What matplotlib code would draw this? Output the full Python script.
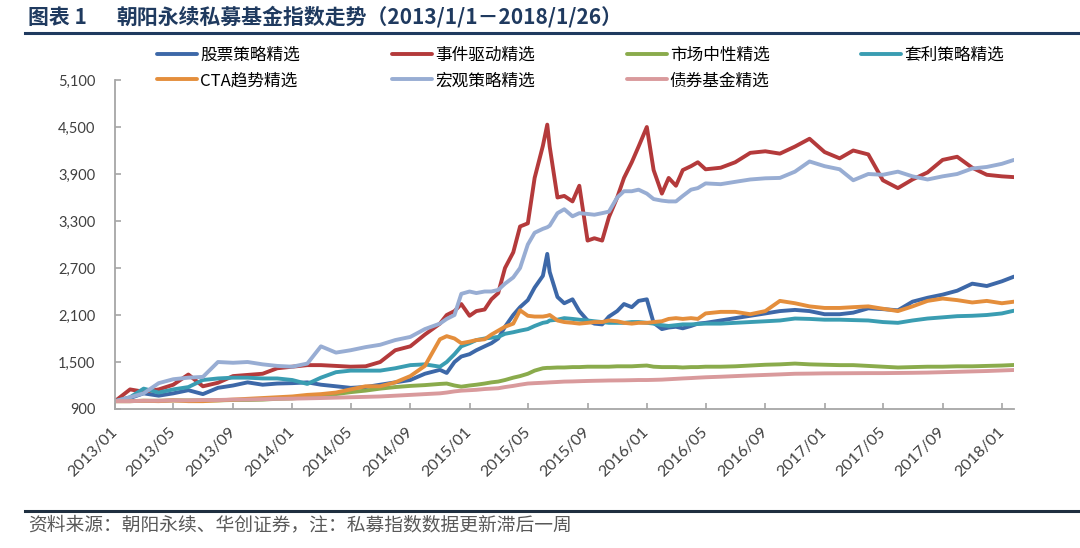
import pandas as pd
import matplotlib.pyplot as plt
import matplotlib.dates as mdates
from matplotlib.lines import Line2D

plt.rcParams['font.family'] = ['Lato', 'Noto Sans CJK SC', 'DejaVu Sans']

# 日期：月度 + 2014/11-2016/04 半月度
dates = (list(pd.date_range('2013-01-01', '2014-10-01', freq='MS'))
         + sorted(list(pd.date_range('2014-11-01', '2016-04-15', freq='SMS'))
                  + [pd.Timestamp('2015-06-10')])
         + list(pd.date_range('2016-05-01', '2018-01-01', freq='MS'))
         + [pd.Timestamp('2018-01-26')])

names = ['股票策略精选', '事件驱动精选', '市场中性精选', '套利策略精选',
         'CTA趋势精选', '宏观策略精选', '债券基金精选']
colors = ['#3D68A8', '#B43A3B', '#8AAB4C', '#3A9DB2',
          '#E48E3C', '#98ADD3', '#D99A9C']

stock = [1000, 1040, 1100, 1070, 1100, 1140, 1090, 1170, 1200, 1240, 1210, 1225,
         1230, 1240, 1210, 1190, 1170, 1180, 1210, 1240, 1270, 1350,
         1400, 1360, 1500, 1570, 1600, 1650, 1700, 1740, 1800, 1950, 2100, 2200,
         2290, 2450, 2600, 2880, 2650, 2330, 2250, 2300, 2150, 2030, 1990, 1980,
         2080, 2150, 2240, 2200, 2280, 2300, 2000, 1920, 1940, 1950, 1930, 1960, 1990,
         2000, 2030, 2060, 2090, 2120, 2150, 2165, 2150, 2110, 2110, 2130, 2185,
         2175, 2160, 2270, 2320, 2360, 2410, 2500, 2470, 2530,
         2590]
event = [1000, 1150, 1120, 1150, 1210, 1340, 1190, 1235, 1320, 1335, 1350, 1420,
         1440, 1460, 1460, 1450, 1440, 1445, 1500, 1650, 1700, 1850,
         1990, 2100, 2150, 2240, 2090, 2150, 2170, 2300, 2380, 2700, 2900, 3230,
         3270, 3850, 4260, 4530, 4250, 3600, 3620, 3550, 3750, 3050, 3080, 3050,
         3350, 3600, 3850, 4050, 4250, 4500, 3950, 3650, 3850, 3750, 3950, 4000, 4050,
         3960, 3980, 4050, 4170, 4190, 4160, 4250, 4350, 4180, 4100, 4200, 4150,
         3820, 3720, 3830, 3920, 4080, 4120, 3980, 3890, 3870,
         3860]
neutral = [1000, 1000, 1005, 1005, 1010, 1010, 1010, 1010, 1015, 1015, 1020, 1030,
           1035, 1050, 1070, 1090, 1115, 1135, 1160, 1180, 1195, 1205,
           1220, 1225, 1200, 1185, 1200, 1210, 1225, 1240, 1250, 1270, 1300, 1320,
           1350, 1390, 1420, 1425, 1425, 1430, 1430, 1435, 1435, 1440, 1440, 1440,
           1440, 1445, 1445, 1445, 1450, 1455, 1440, 1435, 1435, 1435, 1430, 1435, 1435,
           1440, 1440, 1445, 1455, 1465, 1470, 1480, 1470, 1465, 1460, 1460, 1450,
           1440, 1430, 1435, 1440, 1440, 1445, 1445, 1450, 1455,
           1462]
arbitrage = [1000, 1050, 1160, 1110, 1150, 1180, 1270, 1290, 1300, 1300, 1290, 1290,
             1270, 1220, 1300, 1370, 1390, 1390, 1390, 1420, 1460, 1470,
             1440, 1500, 1600, 1700, 1740, 1780, 1800, 1810, 1820, 1860, 1880, 1900,
             1920, 1960, 2000, 2010, 2030, 2040, 2060, 2050, 2040, 2030, 2020, 2010,
             2000, 2000, 2000, 2010, 2010, 2000, 1990, 1970, 1960, 1970, 1980, 1980, 1985,
             1990, 1990, 2000, 2010, 2020, 2030, 2055, 2050, 2040, 2040, 2035, 2030,
             2010, 2000, 2030, 2055, 2070, 2085, 2090, 2100, 2120,
             2155]
cta = [1000, 1000, 1005, 1000, 1010, 1000, 1000, 1010, 1020, 1030, 1040, 1050,
       1060, 1080, 1090, 1110, 1150, 1190, 1190, 1240, 1320, 1450,
       1790, 1830, 1800, 1740, 1760, 1780, 1790, 1850, 1900, 1950, 1990, 2160,
       2090, 2080, 2080, 2090, 2100, 2030, 2010, 2000, 1990, 2000, 2010, 2010,
       2030, 2020, 2000, 1990, 2000, 2000, 2010, 2020, 2050, 2060, 2050, 2060, 2050,
       2120, 2140, 2140, 2110, 2150, 2280, 2250, 2210, 2190, 2190, 2200, 2210,
       2180, 2150, 2210, 2280, 2310, 2290, 2260, 2280, 2250,
       2270]
macro = [1000, 1050, 1100, 1230, 1280, 1300, 1310, 1500, 1490, 1500, 1470, 1450,
         1440, 1480, 1700, 1620, 1650, 1690, 1720, 1780, 1820, 1920,
         1990, 2050, 2100, 2370, 2400, 2380, 2400, 2400, 2420, 2500, 2580, 2700,
         3000, 3150, 3200, 3220, 3240, 3400, 3450, 3360, 3400, 3390, 3380, 3400,
         3420, 3600, 3680, 3680, 3700, 3650, 3580, 3560, 3550, 3550, 3620, 3700, 3720,
         3780, 3770, 3800, 3830, 3845, 3850, 3930, 4060, 4000, 3960, 3820, 3900,
         3890, 3930, 3870, 3830, 3870, 3900, 3970, 3990, 4030,
         4080]
bond = [1000, 1000, 1005, 1005, 1010, 1010, 1015, 1015, 1020, 1020, 1025, 1030,
        1032, 1036, 1040, 1045, 1050, 1055, 1060, 1070, 1080, 1090,
        1100, 1110, 1125, 1134, 1140, 1145, 1155, 1160, 1165, 1180, 1195, 1210,
        1225, 1230, 1235, 1238, 1240, 1245, 1250, 1252, 1255, 1258, 1260, 1262,
        1264, 1265, 1266, 1268, 1270, 1270, 1272, 1275, 1280, 1285, 1290, 1295, 1300,
        1305, 1312, 1320, 1328, 1335, 1342, 1350, 1352, 1355, 1356, 1357, 1358,
        1358, 1360, 1362, 1365, 1370, 1375, 1380, 1385, 1392,
        1398]

series = [stock, event, neutral, arbitrage, cta, macro, bond]
yticks = [900, 1500, 2100, 2700, 3300, 3900, 4500, 5100]

navy = '#1F3A5F'
grey = '#A6A6A6'

fig = plt.figure(figsize=(10.8, 5.48), dpi=100)
ax = fig.add_axes([115 / 1080, 1 - 409 / 548, (1014 - 115) / 1080, (409 - 80) / 548])

lines = []
for name, vals, c in zip(names, series, colors):
    ln, = ax.plot(dates, vals, color=c, lw=2.8, label=name, solid_capstyle='round')
    lines.append(ln)

# 坐标轴
ax.set_xlim(pd.Timestamp('2013-01-01'), pd.Timestamp('2018-01-26'))
ax.set_ylim(900, 5100)
ax.set_yticks(yticks)
ax.set_yticklabels([f'{v:,}' for v in yticks])
ax.set_xticks(pd.date_range('2013-01-01', '2018-01-01', freq='4MS'))
ax.xaxis.set_major_formatter(mdates.DateFormatter('%Y/%m'))
for s in ['top', 'right']:
    ax.spines[s].set_visible(False)
for s in ['left', 'bottom']:
    ax.spines[s].set_color(grey)
    ax.spines[s].set_linewidth(1.3)
ax.tick_params(axis='both', direction='in', length=4, width=1.2, color=grey,
               labelcolor='#404040', labelsize=10.5)
ax.tick_params(axis='y', pad=14)
ax.tick_params(axis='x', pad=15, labelsize=11.5)
for lab in ax.get_xticklabels():
    lab.set_rotation(45)
    lab.set_ha('right')
    lab.set_va('center')
    lab.set_rotation_mode('anchor')

# 图例：按行排列
order = [0, 4, 1, 5, 2, 6, 3]
fig.legend([lines[i] for i in order], [names[i] for i in order],
           loc='upper left', bbox_to_anchor=(157 / 1080, 1 - 47 / 548),
           ncol=4, frameon=False, prop={'family': ['Noto Sans CJK SC'], 'size': 12},
           handlelength=2.4, handletextpad=0.2, columnspacing=5.5,
           labelspacing=0.5, borderpad=0, borderaxespad=0)

# 标题与脚注
fig.text(28 / 1080, 1 - 17 / 548, '图表 1', fontsize=15, fontweight='bold',
         color=navy, va='center', family=['Noto Sans CJK SC'])
fig.text(116 / 1080, 1 - 17 / 548, '朝阳永续私募基金指数走势（2013/1/1－2018/1/26）',
         fontsize=15, fontweight='bold', color=navy, va='center',
         family=['Noto Sans CJK SC'])
fig.add_artist(Line2D([25 / 1080, 1], [1 - 33 / 548] * 2, color=navy, lw=2.2))
fig.add_artist(Line2D([25 / 1080, 1], [1 - 511 / 548] * 2, color='#1F2F40', lw=2.2))
fig.text(28 / 1080, 1 - 525 / 548, '资料来源：朝阳永续、华创证券，注：私募指数数据更新滞后一周',
         fontsize=13.5, color='#595959', va='center', family=['Noto Sans CJK SC'])

fig.savefig('out.png', dpi=100)
